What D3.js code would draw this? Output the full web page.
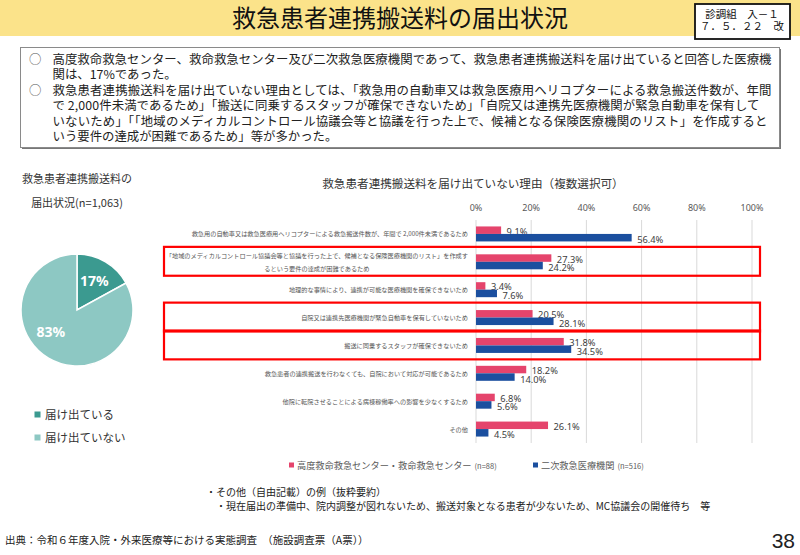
<!DOCTYPE html>
<html>
<head>
<meta charset="utf-8">
<script src="https://cdn.jsdelivr.net/npm/d3@7"></script>
<style>
  body { margin: 0; background: #fff; }
  svg { display: block; }
</style>
</head>
<body>
<svg id="chart" width="800" height="555"></svg>
<script>
const JP = '"Noto Sans CJK JP", "Noto Sans", sans-serif';

// ---- data ----
const pageTitle = "救急患者連携搬送料の届出状況";
const docTag = ["診調組　入－１", "７．５．２２　改"];
const summaryLines = [
  ["○", "高度救命救急センター、救命救急センター及び二次救急医療機関であって、救急患者連携搬送料を届け出ていると回答した医療機"],
  ["", "関は、17%であった。"],
  ["○", "救急患者連携搬送料を届け出ていない理由としては、「救急用の自動車又は救急医療用ヘリコプターによる救急搬送件数が、年間"],
  ["", "で 2,000件未満であるため」「搬送に同乗するスタッフが確保できないため」「自院又は連携先医療機関が緊急自動車を保有して"],
  ["", "いないため」「「地域のメディカルコントロール協議会等と協議を行った上で、候補となる保険医療機関のリスト」を作成すると"],
  ["", "いう要件の達成が困難であるため」等が多かった。"]
];
const pieTitle = ["救急患者連携搬送料の", "届出状況(n=1,063)"];
const pieLabels = ["届け出ている", "届け出ていない"];
const pieValues = [17, 83];

const barTitle = "救急患者連携搬送料を届け出ていない理由（複数選択可）";
const reasons = [
  "救急用の自動車又は救急医療用ヘリコプターによる救急搬送件数が、年間で 2,000件未満であるため",
  "「地域のメディカルコントロール協議会等と協議を行った上で、候補となる保険医療機関のリスト」を作成す\nるという要件の達成が困難であるため",
  "地理的な事情により、連携が可能な医療機関を確保できないため",
  "自院又は連携先医療機関が緊急自動車を保有していないため",
  "搬送に同乗するスタッフが確保できないため",
  "救急患者の連携搬送を行わなくても、自院において対応が可能であるため",
  "他院に転院させることによる病棟稼働率への影響を少なくするため",
  "その他"
];
const seriesNames = ["高度救命救急センター・救命救急センター", "二次救急医療機関"];
const seriesN = ["(n=88)", "(n=516)"];
const highCenter = [9.1, 27.3, 3.4, 20.5, 31.8, 18.2, 6.8, 26.1];
const secondary  = [56.4, 24.2, 7.6, 28.1, 34.5, 14.0, 5.6, 4.5];
const xTicks = [0, 20, 40, 60, 80, 100];
const boxedReasons = [1, 3, 4];

const notes = [
  "・その他（自由記載）の例（抜粋要約）",
  "　・現在届出の準備中、院内調整が図れないため、搬送対象となる患者が少ないため、MC協議会の開催待ち　等"
];
const source = "出典：令和６年度入院・外来医療等における実態調査　（施設調査票（A票））";
const pageNo = "38";

// ---- drawing ----
const svg = d3.select("#chart");
const seriesColor = ["#e5446c", "#1b4f9f"];
const pieColor = ["#3b9a90", "#8dc8c3"];

// header band
svg.append("rect").attr("x", 0).attr("y", 0).attr("width", 800).attr("height", 36).attr("fill", "#fbe38a");
svg.append("text")
  .attr("x", 400).attr("y", 27)
  .attr("text-anchor", "middle")
  .style("font-family", JP).style("font-size", "24px").attr("fill", "#111")
  .text(pageTitle);

const tag = svg.append("g");
tag.append("rect").attr("x", 695).attr("y", 4).attr("width", 95).attr("height", 35)
  .attr("fill", "#fff").attr("stroke", "#111").attr("stroke-width", 1.8);
tag.selectAll("text").data(docTag).join("text")
  .attr("x", 742).attr("y", (d, i) => 18 + i * 12)
  .attr("text-anchor", "middle")
  .style("font-family", JP).style("font-size", "10.5px").attr("fill", "#111")
  .text(d => d);

// summary box
svg.append("rect").attr("x", 22).attr("y", 49).attr("width", 759).attr("height", 100)
  .attr("fill", "#777");
svg.append("rect").attr("x", 20.5).attr("y", 47.5).attr("width", 759).attr("height", 100)
  .attr("fill", "#fff").attr("stroke", "#8a8a8a").attr("stroke-width", 1);

const sumG = svg.append("g").style("font-family", JP).style("font-size", "12.4px").attr("fill", "#222");
const lineLen = [719, null, 719, 707, 715, null];
summaryLines.forEach(([bullet, txt], i) => {
  const y = 63.5 + i * 15.5;
  if (bullet) sumG.append("text").attr("x", 29).attr("y", y).attr("fill", "#555").text(bullet);
  const t = sumG.append("text").attr("x", 52.5).attr("y", y).text(txt);
  if (lineLen[i]) t.attr("textLength", lineLen[i]).attr("lengthAdjust", "spacing");
});

// pie
const pieG = svg.append("g").attr("transform", "translate(77,310)");
const r = 56;
const arcs = d3.pie().sort(null)(pieValues);
const arc = d3.arc().innerRadius(0).outerRadius(r);
const labelArc = d3.arc().innerRadius(34).outerRadius(34);
pieG.selectAll("path").data(arcs).join("path")
  .attr("d", arc).attr("fill", (d, i) => pieColor[i])
  .attr("stroke", "#fff").attr("stroke-width", 1.5);
pieG.selectAll("text").data(arcs).join("text")
  .attr("transform", d => {
    // the big slice's label sits a bit further round, as in the original
    const a = (d.startAngle + d.endAngle) / 2 + (d.index === 1 ? 0.35 : 0);
    return `translate(${34 * Math.sin(a)},${-34 * Math.cos(a)})`;
  })
  .attr("text-anchor", "middle").attr("dominant-baseline", "central")
  .style("font-family", '"Noto Sans", sans-serif').style("font-weight", "bold").style("font-size", "14px")
  .attr("fill", "#fff")
  .text(d => d.data + "%");

svg.selectAll("text.pietitle").data(pieTitle).join("text").attr("class", "pietitle")
  .attr("x", 77).attr("y", (d, i) => 183 + i * 24)
  .attr("text-anchor", "middle")
  .style("font-family", JP).style("font-size", "11px").attr("fill", "#333")
  .text(d => d);

const pieLeg = svg.append("g");
pieLabels.forEach((lab, i) => {
  const y = 414 + i * 23;
  pieLeg.append("rect").attr("x", 34.5).attr("y", y - 2.5).attr("width", 6).attr("height", 6).attr("fill", pieColor[i]);
  pieLeg.append("text").attr("x", 45).attr("y", y).attr("dominant-baseline", "central")
    .style("font-family", JP).style("font-size", "11.5px").attr("fill", "#333").text(lab);
});

// bar chart
const x = d3.scaleLinear().domain([0, 100]).range([476, 752]);
const y = d3.scaleBand().domain(reasons.map((d, i) => i)).range([220, 443]);
const sub = d3.scaleBand().domain([0, 1]).range([0, y.bandwidth()]).paddingOuter(0.86);

svg.append("text")
  .attr("x", 473).attr("y", 183).attr("text-anchor", "middle").attr("dominant-baseline", "central")
  .style("font-family", JP).style("font-size", "11.6px").attr("fill", "#333")
  .text(barTitle);

const grid = svg.append("g");
grid.selectAll("line").data(xTicks).join("line")
  .attr("x1", d => x(d)).attr("x2", d => x(d))
  .attr("y1", 220).attr("y2", 443)
  .attr("stroke", "#d9d9d9").attr("stroke-width", 1);
grid.selectAll("text").data(xTicks).join("text")
  .attr("x", d => x(d)).attr("y", 207)
  .attr("text-anchor", "middle").attr("dominant-baseline", "central")
  .style("font-family", '"Noto Sans", sans-serif').style("font-size", "9px").attr("fill", "#595959")
  .text(d => d + "%");

// category labels
const catG = svg.append("g").style("font-family", JP).style("font-size", "6.2px").attr("fill", "#555");
reasons.forEach((lab, i) => {
  const lines = lab.split("\n");
  const cy = y(i) + y.bandwidth() / 2;
  if (lines.length === 1) {
    catG.append("text").attr("x", 468).attr("y", cy).attr("text-anchor", "end")
      .attr("dominant-baseline", "central").text(lab);
  } else {
    const t = catG.append("text").attr("x", 468).attr("y", cy - 6.5).attr("text-anchor", "end")
      .attr("dominant-baseline", "central").text(lines[0]);
    const w = t.node().getComputedTextLength();
    lines.slice(1).forEach((ln, k) => {
      catG.append("text").attr("x", 468 - w / 2).attr("y", cy + 6.5 + k * 13).attr("text-anchor", "middle")
        .attr("dominant-baseline", "central").text(ln);
    });
  }
});

const series = [highCenter, secondary];
const barG = svg.append("g");
series.forEach((vals, s) => {
  barG.selectAll(`rect.s${s}`).data(vals).join("rect").attr("class", `s${s}`)
    .attr("x", x(0)).attr("y", (d, i) => y(i) + sub(s))
    .attr("width", d => x(d) - x(0)).attr("height", sub.bandwidth())
    .attr("fill", seriesColor[s]);
  barG.selectAll(`text.s${s}`).data(vals).join("text").attr("class", `s${s}`)
    .attr("x", d => x(d) + 5.5)
    .attr("y", (d, i) => y(i) + sub(s) + sub.bandwidth() / 2 + (s === 0 ? 1 : 2))
    .attr("dominant-baseline", "central")
    .style("font-family", '"Noto Sans", sans-serif').style("font-size", "9.3px").attr("fill", "#404040")
    .text(d => d.toFixed(1) + "%");
});

// red highlight boxes
svg.append("g").selectAll("rect").data(boxedReasons).join("rect")
  .attr("x", 164).attr("y", d => y(d) - 1)
  .attr("width", 596).attr("height", y.bandwidth() + 1)
  .attr("fill", "none").attr("stroke", "#ff0000").attr("stroke-width", 2.2);

// series legend
const legX = [289, 533];
series.forEach((v, s) => {
  const g = svg.append("g").attr("transform", `translate(${legX[s]},465)`);
  g.append("rect").attr("x", 0).attr("y", -2.5).attr("width", 5).attr("height", 5).attr("fill", seriesColor[s]);
  const t = g.append("text").attr("x", 8).attr("y", 0).attr("dominant-baseline", "central")
    .style("font-family", JP).style("font-size", "9.2px").attr("fill", "#595959");
  t.append("tspan").text(seriesNames[s]);
  t.append("tspan").attr("dx", 3).style("font-size", "7.5px").text(seriesN[s]);
});

// notes and source
svg.selectAll("text.note").data(notes).join("text").attr("class", "note")
  .attr("x", 206).attr("y", (d, i) => 496 + i * 14)
  .style("font-family", JP).style("font-size", "10px").attr("fill", "#222")
  .text(d => d);
svg.append("text").attr("x", 5).attr("y", 544)
  .style("font-family", JP).style("font-size", "10.5px").attr("fill", "#222").text(source);
svg.append("text").attr("x", 795).attr("y", 548).attr("text-anchor", "end")
  .style("font-family", '"Liberation Sans Narrow", "Liberation Sans", sans-serif').style("font-size", "21px")
  .attr("fill", "#222").text(pageNo);
</script>
</body>
</html>
